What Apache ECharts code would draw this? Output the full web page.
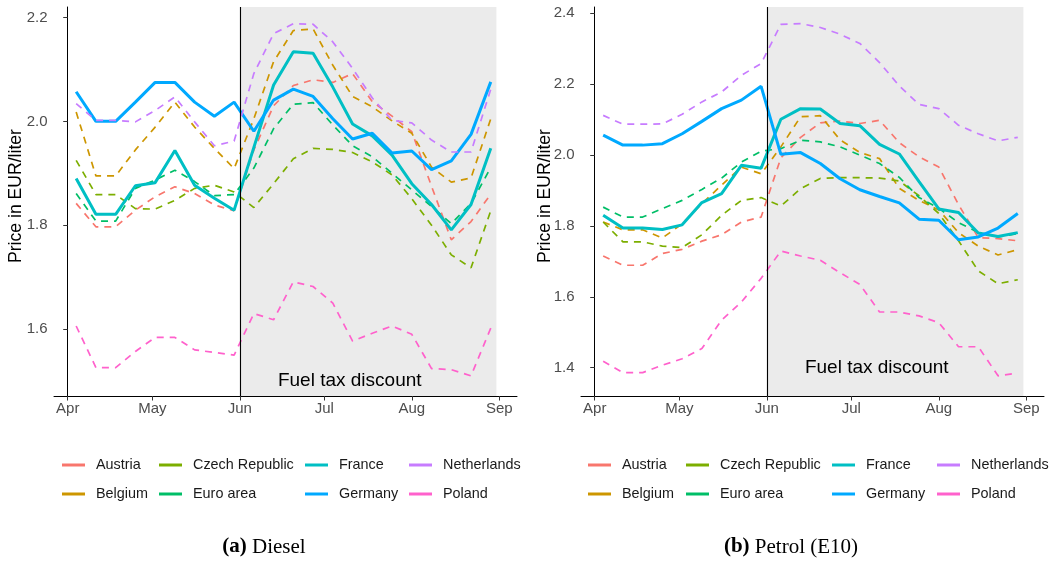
<!DOCTYPE html>
<html><head><meta charset="utf-8">
<script src="https://cdn.jsdelivr.net/npm/echarts@6/dist/echarts.min.js"></script>
<style>html,body{margin:0;padding:0;background:#fff}#c{width:1054px;height:562px}</style>
</head><body><div id="c"></div>
<script>
// ---- data ----
const weeks = ['2022-04-04','2022-04-11','2022-04-18','2022-04-25','2022-05-02','2022-05-09','2022-05-16','2022-05-23','2022-05-30',
  '2022-06-06','2022-06-13','2022-06-20','2022-06-27','2022-07-04','2022-07-11','2022-07-18','2022-07-25',
  '2022-08-01','2022-08-08','2022-08-15','2022-08-22','2022-08-29'];
const countries = ['Austria','Belgium','Czech Republic','Euro area','France','Germany','Netherlands','Poland'];
const countryColors = ['#F8766D','#CD9600','#7CAE00','#00BE67','#00BFC4','#00A9FF','#C77CFF','#FF61CC'];
const solidCountries = ['France','Germany'];
const monthStarts = ['2022-04-01','2022-05-01','2022-06-01','2022-07-01','2022-08-01','2022-09-01'];
const monthLabels = ['Apr','May','Jun','Jul','Aug','Sep'];
const dieselTicks = [1.6, 1.8, 2.0, 2.2];
const petrolTicks = [1.4, 1.6, 1.8, 2.0, 2.2, 2.4];
const discountStart = '2022-06-01';
const discountEnd = '2022-08-31';
const discountLabel = 'Fuel tax discount';
const discountLabelDate = '2022-07-10';
const discountLabelY = [1.5, 1.4];
const yTitle = 'Price in EUR/liter';
const captions = [['(a)', ' Diesel'], ['(b)', ' Petrol (E10)']];

const dieselAustria     = [1.842,1.797,1.797,1.829,1.855,1.874,1.861,1.839,1.828,1.945,2.030,2.069,2.080,2.075,2.092,2.038,2.010,1.980,1.875,1.772,1.807,1.860];
const dieselBelgium     = [2.018,1.895,1.895,1.945,1.989,2.037,1.989,1.948,1.909,2.005,2.115,2.175,2.178,2.108,2.048,2.028,2.001,1.977,1.912,1.883,1.891,2.005];
const dieselCzech       = [1.925,1.859,1.859,1.832,1.831,1.848,1.871,1.877,1.864,1.834,1.880,1.928,1.948,1.946,1.940,1.922,1.897,1.851,1.800,1.743,1.718,1.828];
const dieselEuroArea    = [1.861,1.808,1.808,1.871,1.887,1.906,1.884,1.857,1.859,1.910,1.986,2.033,2.036,1.993,1.953,1.932,1.900,1.868,1.836,1.803,1.842,1.911];
const dieselFrance      = [1.890,1.821,1.821,1.876,1.882,1.944,1.877,1.852,1.829,1.950,2.070,2.134,2.131,2.066,1.995,1.972,1.935,1.880,1.840,1.791,1.840,1.948];
const dieselGermany     = [2.057,2.000,2.000,2.037,2.075,2.075,2.037,2.010,2.037,1.981,2.041,2.062,2.048,2.005,1.966,1.977,1.939,1.943,1.907,1.924,1.975,2.076];
const dieselNetherlands = [2.034,2.002,2.002,1.999,2.021,2.047,1.999,1.953,1.962,2.092,2.169,2.188,2.187,2.153,2.102,2.045,2.002,1.997,1.964,1.941,1.941,2.062];
const dieselPoland      = [1.606,1.526,1.526,1.557,1.584,1.584,1.560,1.555,1.550,1.630,1.618,1.691,1.682,1.650,1.577,1.592,1.606,1.590,1.524,1.522,1.510,1.602];

const petrolAustria     = [1.715,1.689,1.689,1.722,1.734,1.757,1.775,1.811,1.825,1.992,2.050,2.091,2.096,2.089,2.098,2.035,1.995,1.966,1.860,1.767,1.764,1.758];
const petrolBelgium     = [1.811,1.789,1.789,1.766,1.806,1.863,1.915,1.966,1.947,2.023,2.108,2.111,2.043,2.007,1.990,1.906,1.872,1.845,1.781,1.743,1.718,1.733];
const petrolCzech       = [1.811,1.755,1.755,1.743,1.739,1.775,1.830,1.872,1.880,1.856,1.905,1.934,1.936,1.936,1.935,1.927,1.885,1.835,1.758,1.673,1.637,1.648];
const petrolEuroArea    = [1.853,1.825,1.825,1.849,1.872,1.903,1.935,1.980,2.011,2.018,2.042,2.037,2.023,2.000,1.976,1.937,1.880,1.850,1.809,1.782,1.769,1.778];
const petrolFrance      = [1.830,1.794,1.794,1.790,1.803,1.866,1.891,1.971,1.963,2.101,2.131,2.130,2.089,2.083,2.030,2.003,1.925,1.848,1.838,1.780,1.770,1.781];
const petrolGermany     = [2.056,2.028,2.028,2.032,2.060,2.095,2.131,2.155,2.194,2.002,2.007,1.976,1.933,1.902,1.883,1.865,1.819,1.816,1.761,1.769,1.794,1.835];
const petrolNetherlands = [2.112,2.087,2.087,2.088,2.115,2.150,2.178,2.225,2.258,2.369,2.371,2.360,2.341,2.315,2.261,2.195,2.143,2.131,2.084,2.060,2.040,2.050];
const petrolPoland      = [1.418,1.386,1.386,1.407,1.425,1.454,1.534,1.585,1.652,1.729,1.715,1.703,1.668,1.635,1.557,1.557,1.546,1.527,1.459,1.459,1.377,1.385];

const dieselSeries = [dieselAustria, dieselBelgium, dieselCzech, dieselEuroArea, dieselFrance, dieselGermany, dieselNetherlands, dieselPoland];
const petrolSeries = [petrolAustria, petrolBelgium, petrolCzech, petrolEuroArea, petrolFrance, petrolGermany, petrolNetherlands, petrolPoland];

// ---- build ----
const ORIGIN = Date.parse(monthStarts[0] + 'T00:00:00Z');
function dayNum(s) { return (Date.parse(s + 'T00:00:00Z') - ORIGIN) / 864e5; }
const tickDays = monthStarts.map(dayNum);
const X_MIN = -4.86, X_MAX = 159.3;
const SANS = 'Liberation Sans';

const grids = [
  { left: 54, top: 7, width: 463, height: 389 },
  { left: 581, top: 7, width: 463, height: 389 }
];
const yRanges = [[1.4712, 2.2202], [1.320, 2.4178]];
const yTickSets = [dieselTicks, petrolTicks];

const xAxes = grids.map((g, i) => ({
  type: 'value', gridIndex: i, min: X_MIN, max: X_MAX,
  axisLine: { show: true, onZero: false, lineStyle: { color: '#000', width: 1 } },
  axisTick: { show: true, length: 4.5, lineStyle: { color: '#333' }, customValues: tickDays },
  axisLabel: { show: true, customValues: tickDays, margin: 5, fontSize: 15, color: '#4D4D4D', fontFamily: SANS,
    formatter: v => { const k = tickDays.findIndex(t => Math.abs(t - v) < 0.01); return k >= 0 ? monthLabels[k] : ''; } },
  splitLine: { show: false }
}));
const yAxes = grids.map((g, i) => ({
  type: 'value', gridIndex: i, min: yRanges[i][0], max: yRanges[i][1],
  axisLine: { show: true, lineStyle: { color: '#000', width: 1 } },
  axisTick: { show: true, length: 4.5, lineStyle: { color: '#333' }, customValues: yTickSets[i] },
  axisLabel: { show: true, customValues: yTickSets[i], margin: 6.5, fontSize: 15, color: '#4D4D4D', fontFamily: SANS,
    formatter: v => v.toFixed(1) },
  splitLine: { show: false }
}));

const series = [];
[dieselSeries, petrolSeries].forEach((set, gi) => {
  series.push({
    type: 'line', name: '_discount' + gi, xAxisIndex: gi, yAxisIndex: gi, data: [], silent: true,
    markArea: { silent: true, itemStyle: { color: '#EBEBEB' },
      data: [[{ xAxis: dayNum(discountStart) }, { xAxis: dayNum(discountEnd) }]] },
    markLine: { silent: true, symbol: ['none', 'none'], label: { show: false },
      lineStyle: { color: '#000', width: 1.1, type: 'solid' },
      data: [{ xAxis: dayNum(discountStart) }] },
    markPoint: { silent: true,
      data: [{ coord: [dayNum(discountLabelDate), discountLabelY[gi]], symbol: 'rect', symbolSize: 1,
        itemStyle: { color: 'rgba(0,0,0,0)' },
        label: { show: true, position: 'inside', formatter: discountLabel, color: '#000', fontSize: 19, fontFamily: SANS } }] }
  });
  set.forEach((vals, ci) => {
    const name = countries[ci];
    const solid = solidCountries.includes(name);
    series.push({
      type: 'line', name, xAxisIndex: gi, yAxisIndex: gi, z: 3,
      data: weeks.map((d, k) => [dayNum(d), vals[k]]),
      showSymbol: false, symbol: 'none', silent: true,
      itemStyle: { color: countryColors[ci] },
      lineStyle: { color: countryColors[ci], width: solid ? 3 : 1.7, type: solid ? 'solid' : [7, 6] }
    });
  });
});

const legendCols = [['Austria','Belgium'],['Czech Republic','Euro area'],['France','Germany'],['Netherlands','Poland']];
const legendX = [[62, 159, 305, 409], [588, 686, 832, 937]];
const legends = [];
legendX.forEach(xs => xs.forEach((x, k) => legends.push({
  orient: 'vertical', left: x, top: 457, padding: 0, data: legendCols[k], icon: 'rect',
  itemWidth: 23, itemHeight: 3, itemGap: 13, selectedMode: false,
  textStyle: { fontSize: 14.4, color: '#1a1a1a', fontFamily: SANS, lineHeight: 16, padding: [0, 0, 0, 6] }
})));

const graphic = [
  { type: 'text', x: 16, y: 196, rotation: Math.PI / 2,
    style: { text: yTitle, fontSize: 17.6, fontFamily: SANS, fill: '#000', align: 'center', verticalAlign: 'middle' } },
  { type: 'text', x: 545, y: 196, rotation: Math.PI / 2,
    style: { text: yTitle, fontSize: 17.6, fontFamily: SANS, fill: '#000', align: 'center', verticalAlign: 'middle' } },
  { type: 'text', x: 264, y: 547,
    style: { text: '{b|' + captions[0][0] + '}' + captions[0][1], fontSize: 21, fontFamily: 'Liberation Serif', fill: '#000',
      align: 'center', verticalAlign: 'middle', rich: { b: { fontWeight: 'bold', fontSize: 21, fontFamily: 'Liberation Serif' } } } },
  { type: 'text', x: 791, y: 547,
    style: { text: '{b|' + captions[1][0] + '}' + captions[1][1], fontSize: 21, fontFamily: 'Liberation Serif', fill: '#000',
      align: 'center', verticalAlign: 'middle', rich: { b: { fontWeight: 'bold', fontSize: 21, fontFamily: 'Liberation Serif' } } } }
];

const chart = echarts.init(document.getElementById('c'), null, { renderer: 'canvas' });
chart.setOption({
  animation: false,
  backgroundColor: '#fff',
  grid: grids,
  xAxis: xAxes,
  yAxis: yAxes,
  legend: legends,
  series,
  graphic
});
</script></body></html>
